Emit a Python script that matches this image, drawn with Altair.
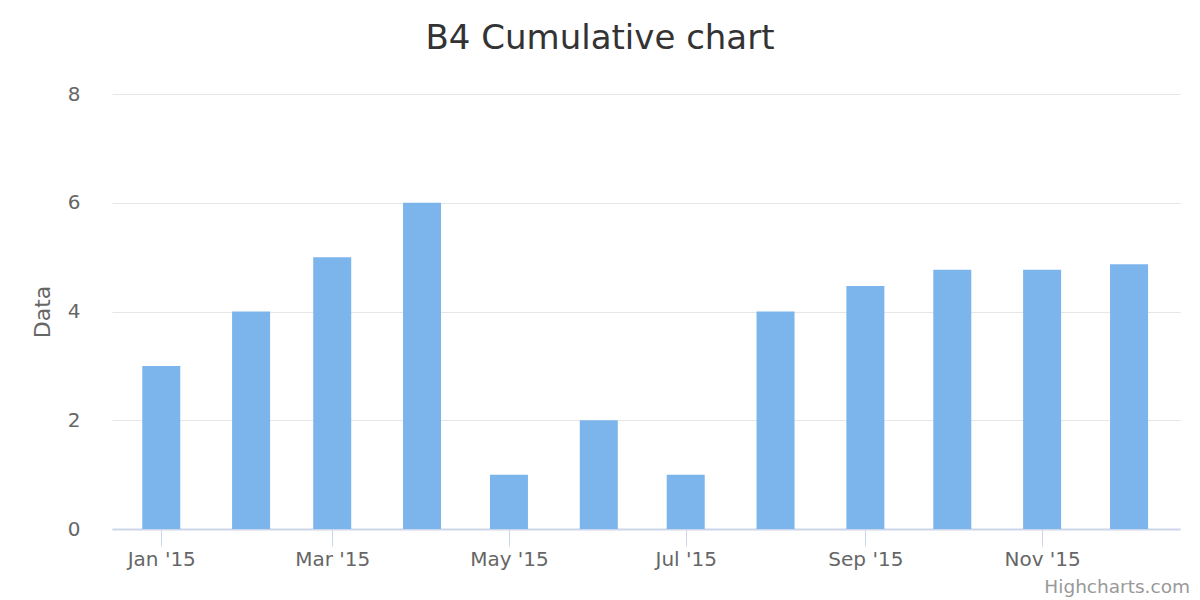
import altair as alt
import pandas as pd

months = ["2015-01-01", "2015-02-01", "2015-03-01", "2015-04-01", "2015-05-01", "2015-06-01",
          "2015-07-01", "2015-08-01", "2015-09-01", "2015-10-01", "2015-11-01", "2015-12-01"]
values = [3, 4, 5, 6, 1, 2, 1, 4, 4.47, 4.77, 4.77, 4.87]

df = pd.DataFrame({"date": months, "value": values})

FONT = "DejaVu Sans"

bars = alt.Chart(df).mark_bar(width=38, color="#7cb5ec").encode(
    x=alt.X("date:T",
            scale=alt.Scale(type="utc", nice=False, padding=0,
                            domain=[alt.DateTime(year=2014, month=12, date=15, utc=True),
                                    alt.DateTime(year=2015, month=12, date=18, hours=14, utc=True)]),
            axis=alt.Axis(title=None,
                          labelExpr="utcFormat(datum.value, \"%b '%y\")",
                          tickCount={"interval": "month", "step": 2},
                          grid=False, domainColor="#ccd6eb", domainWidth=2,
                          tickColor="#ccd6eb", tickSize=17, tickWidth=1,
                          labelColor="#666666", labelFontSize=20, labelFont=FONT,
                          labelPadding=3, labelFlush=False)),
    y=alt.Y("value:Q",
            scale=alt.Scale(domain=[0, 8], nice=False),
            axis=alt.Axis(title="Data", values=[0, 2, 4, 6, 8], domain=False, ticks=False,
                          gridColor="#e6e6e6", gridWidth=1.2,
                          labelColor="#666666", labelFontSize=20, labelFont=FONT,
                          labelPadding=32,
                          titleColor="#666666", titleFontSize=22, titleFont=FONT,
                          titleFontWeight="normal", titleX=-63, titleBaseline="alphabetic")),
)

credit_df = pd.DataFrame({"t": ["Highcharts.com"]})
credit = alt.Chart(credit_df).mark_text(
    align="right", baseline="alphabetic", fontSize=18.5, font=FONT, color="#999999"
).encode(
    text="t:N",
    x=alt.value(1078),
    y=alt.value(499),
)

chart = alt.layer(bars, credit).properties(
    width=1068,
    height=435,
    padding={"left": 104, "top": 86, "right": 12, "bottom": 68},
    autosize=alt.AutoSizeParams(type="none"),
    title=alt.TitleParams("B4 Cumulative chart", fontSize=34, font=FONT, color="#333333",
                          fontWeight="normal", anchor="middle", dx=-46, offset=28),
).configure_view(stroke=None)

chart.save("out.html", embed_options={"renderer": "svg", "actions": False})
